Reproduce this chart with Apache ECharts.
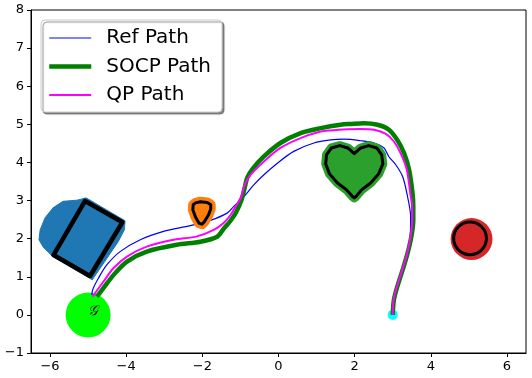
<!DOCTYPE html>
<html>
<head>
<meta charset="utf-8">
<script src="https://cdn.jsdelivr.net/npm/echarts@6/dist/echarts.min.js"></script>
<style>
  html, body { margin: 0; padding: 0; background: #fff; }
  #chart { width: 532px; height: 378px; }
</style>
</head>
<body>
<div id="chart"></div>
<script>
// tick labels
const xTicks = [-6, -4, -2, 0, 2, 4, 6];
const yTicks = [-1, 0, 1, 2, 3, 4, 5, 6, 7, 8];

// paths (x, y)
const refPath = [
  [3.0, 0.0], [3.03, 0.39], [3.12, 0.74], [3.25, 1.18], [3.38, 1.62], [3.46, 2.06], [3.47, 2.58],
  [3.39, 3.10], [3.26, 3.63], [3.08, 3.94], [2.90, 4.15], [2.77, 4.38], [2.51, 4.51], [2.16, 4.57],
  [1.72, 4.61], [1.37, 4.59], [0.93, 4.51], [0.40, 4.29], [-0.03, 3.98], [-0.39, 3.67], [-0.65, 3.41],
  [-0.91, 3.10], [-1.18, 2.84], [-1.35, 2.67], [-1.79, 2.48], [-2.32, 2.34], [-3.02, 2.19],
  [-3.63, 1.97], [-4.16, 1.66], [-4.51, 1.31], [-4.73, 0.96], [-4.88, 0.66], [-4.90, 0.52]
];
const socpPath = [
  [3.0, 0.0], [3.03, 0.39], [3.12, 0.74], [3.26, 1.18], [3.39, 1.62], [3.49, 2.06], [3.54, 2.49],
  [3.54, 2.84], [3.52, 3.19], [3.43, 3.81], [3.30, 4.24], [3.12, 4.59], [2.90, 4.86], [2.60, 4.99],
  [2.24, 5.03], [1.89, 5.01], [1.63, 4.99], [1.11, 4.90], [0.58, 4.77], [0.05, 4.51], [-0.39, 4.15],
  [-0.68, 3.83], [-0.82, 3.60], [-0.89, 3.33], [-0.97, 3.02], [-1.11, 2.70], [-1.26, 2.47],
  [-1.44, 2.26], [-1.61, 2.05], [-2.05, 1.92], [-2.67, 1.84], [-3.46, 1.66], [-3.98, 1.40],
  [-4.33, 1.05], [-4.60, 0.70], [-4.77, 0.48]
];
const qpPath = [
  [3.0, 0.0], [3.02, 0.39], [3.11, 0.74], [3.25, 1.18], [3.38, 1.62], [3.47, 2.06], [3.51, 2.49],
  [3.51, 2.84], [3.46, 3.19], [3.37, 3.81], [3.21, 4.24], [3.03, 4.55], [2.82, 4.75], [2.51, 4.86],
  [2.16, 4.88], [1.81, 4.87], [1.37, 4.84], [1.11, 4.81], [0.58, 4.64], [0.05, 4.38], [-0.39, 4.02],
  [-0.74, 3.67], [-0.89, 3.41], [-0.98, 3.10], [-1.13, 2.84], [-1.26, 2.62], [-1.44, 2.41],
  [-1.70, 2.23], [-2.14, 2.06], [-2.76, 1.97], [-3.46, 1.79], [-3.98, 1.53], [-4.33, 1.23],
  [-4.60, 0.87], [-4.82, 0.57], [-4.88, 0.48]
];

// obstacles (outline vertices / circles as [cx, cy, r])
const blueBlob = [
  [-5.66, 2.98], [-5.29, 3.01], [-5.05, 3.07], [-4.03, 2.47], [-4.05, 2.23], [-4.21, 1.92],
  [-4.89, 0.92], [-5.95, 1.55], [-6.18, 1.78], [-6.29, 1.97], [-6.26, 2.23], [-6.13, 2.55], [-5.92, 2.81]
];
const rectCorners = [[-5.08, 2.99], [-4.10, 2.43], [-4.95, 1.02], [-5.91, 1.57]];
const orangeOutline = [
  [-2.18, 2.94], [-2.05, 2.97], [-1.87, 2.95], [-1.78, 2.89], [-1.78, 2.78], [-1.84, 2.62],
  [-1.95, 2.44], [-2.01, 2.38], [-2.09, 2.41], [-2.18, 2.57], [-2.25, 2.76], [-2.24, 2.89]
];
const heartOutline = [
  [1.99, 4.23], [2.16, 4.38], [2.37, 4.44], [2.58, 4.38], [2.71, 4.20], [2.74, 3.96], [2.63, 3.70],
  [2.42, 3.46], [2.18, 3.28], [2.03, 3.10], [1.99, 3.07], [1.95, 3.10], [1.79, 3.28], [1.55, 3.46],
  [1.34, 3.70], [1.24, 3.96], [1.26, 4.20], [1.39, 4.38], [1.61, 4.44], [1.82, 4.38]
];
const redDisk = [5.07, 1.99, 0.55];
const redRing = [5.03, 2.01, 0.43];
const goalDisk = [-5.0, 0.0, 0.59];
const goalLabel = [-4.88, 0.09];
const startPoint = [3.0, 0.0];

const FONT = "DejaVu Sans";

function polygonSeries(pts, fill, stroke, width, z) {
  return {
    type: "custom", silent: true, z: z, clip: false,
    data: [pts[0]],
    renderItem: function (params, api) {
      return {
        type: "polygon",
        shape: { points: pts.map(p => api.coord(p)) },
        style: { fill: fill, stroke: stroke, lineWidth: width, lineJoin: "round" }
      };
    }
  };
}
function circleSeries(c, fill, stroke, width, z) {
  return {
    type: "custom", silent: true, z: z, clip: false,
    data: [c],
    renderItem: function (params, api) {
      let p = api.coord([api.value(0), api.value(1)]);
      let r = api.size([api.value(2), api.value(2)])[0];
      return {
        type: "circle",
        shape: { cx: p[0], cy: p[1], r: r },
        style: { fill: fill, stroke: stroke, lineWidth: width }
      };
    }
  };
}
function pathSeries(name, pts, color, width, z) {
  return {
    name: name, type: "line", data: pts, z: z,
    symbol: "none", showSymbol: false, smooth: 0.3,
    lineStyle: { color: color, width: width },
    itemStyle: { color: color },
    silent: true, animation: false
  };
}
const minus = v => String(v).replace("-", "\u2212");

let myChart = echarts.init(document.getElementById("chart"));
myChart.setOption({
  animation: false,
  backgroundColor: "#fff",
  grid: { left: 31, top: 10, right: 6, bottom: 25, show: true, borderColor: "#000", borderWidth: 1 },
  legend: {
    data: [
      { name: "Ref Path", lineStyle: { width: 1.2 } },
      { name: "SOCP Path", lineStyle: { width: 4.5 } },
      { name: "QP Path", lineStyle: { width: 2 } }
    ],
    orient: "vertical",
    left: 41, top: 20,
    padding: [8, 11, 7, 6],
    itemWidth: 42, itemHeight: 14, itemGap: 8.5,
    itemStyle: { opacity: 0 },
    backgroundColor: "#fff",
    borderColor: "#ccc", borderWidth: 1, borderRadius: 4,
    shadowColor: "rgba(0,0,0,0.45)", shadowBlur: 1, shadowOffsetX: 2, shadowOffsetY: 2,
    selectedMode: false,
    textStyle: { fontFamily: FONT, fontSize: 20, color: "#000", lineHeight: 20, padding: [0, 0, 0, 10] }
  },
  xAxis: {
    type: "value", min: -6.5, max: 6.5,
    splitLine: { show: false },
    axisLine: { show: true, onZero: false, lineStyle: { color: "#000", width: 1 } },
    axisTick: { show: true, length: 4, customValues: xTicks, lineStyle: { color: "#000" } },
    axisLabel: { customValues: xTicks, formatter: minus, margin: 7, color: "#000", fontFamily: FONT, fontSize: 13 }
  },
  yAxis: {
    type: "value", min: -1, max: 8, interval: 1,
    splitLine: { show: false },
    axisLine: { show: true, onZero: false, lineStyle: { color: "#000", width: 1 } },
    axisTick: { show: true, length: 4, customValues: yTicks, lineStyle: { color: "#000" } },
    axisLabel: { customValues: yTicks, formatter: minus, margin: 7, color: "#000", fontFamily: FONT, fontSize: 13 }
  },
  series: [
    circleSeries(goalDisk, "#00ff00", null, 0, 1),
    {
      type: "scatter", data: [startPoint], symbolSize: 10, z: 2, silent: true,
      itemStyle: { color: "#00ffff", opacity: 1 }
    },
    pathSeries("Ref Path", refPath, "#0000ff", 1.2, 3),
    pathSeries("SOCP Path", socpPath, "#008000", 4.5, 4),
    pathSeries("QP Path", qpPath, "#ff00ff", 2, 5),
    polygonSeries(blueBlob, "#1f77b4", "#1f77b4", 1, 6),
    polygonSeries(rectCorners, null, "#000", 4.5, 7),
    polygonSeries(orangeOutline, "#ff7f0e", "#ff7f0e", 10, 6),
    polygonSeries(orangeOutline, null, "#000", 3, 7),
    polygonSeries(heartOutline, "#2ca02c", "#2ca02c", 9, 6),
    polygonSeries(heartOutline, null, "#000", 3, 7),
    circleSeries(redDisk, "#d62728", null, 0, 6),
    circleSeries(redRing, null, "#000", 3, 7),
    {
      type: "custom", silent: true, z: 8, clip: false,
      data: [goalLabel],
      renderItem: function (params, api) {
        let p = api.coord([api.value(0), api.value(1)]);
        return {
          type: "text",
          style: {
            x: p[0], y: p[1], text: "\ud835\udca2",
            align: "center", verticalAlign: "middle",
            font: "italic 14px 'DejaVu Serif', 'DejaVu Sans'", fill: "#000"
          }
        };
      }
    }
  ]
});
</script>
</body>
</html>
